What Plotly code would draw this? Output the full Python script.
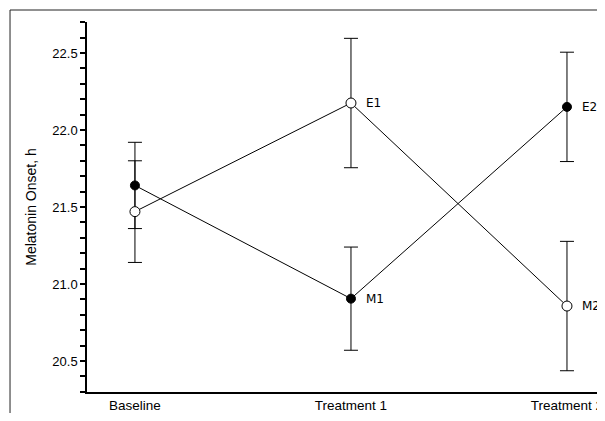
import plotly.graph_objects as go

categories = ["Baseline", "Treatment 1", "Treatment 2"]
x_pos = [0, 1, 2]

open_means = [21.47, 22.175, 20.857]
open_err = [0.33, 0.42, 0.42]
open_labels = ["", "E1", "M2"]

filled_means = [21.64, 20.905, 22.15]
filled_err = [0.28, 0.335, 0.355]
filled_labels = ["", "M1", "E2"]

y_ticks = [20.5, 21.0, 21.5, 22.0, 22.5]
y_ticktext = ["20.5", "21.0", "21.5", "22.0", "22.5"]

FONT = "Liberation Sans Narrow, Liberation Sans, Arial, sans-serif"

fig = go.Figure()

fig.add_trace(go.Scatter(
    x=x_pos, y=filled_means, mode="lines+markers",
    line=dict(color="#000", width=1),
    marker=dict(symbol="circle", size=9, color="#000", line=dict(color="#000", width=1)),
    error_y=dict(type="data", array=filled_err, visible=True, color="#000", thickness=1, width=7),
    showlegend=False, cliponaxis=False,
))
fig.add_trace(go.Scatter(
    x=x_pos, y=open_means, mode="lines+markers",
    line=dict(color="#000", width=1),
    marker=dict(symbol="circle", size=10, color="#fff", line=dict(color="#000", width=1)),
    error_y=dict(type="data", array=open_err, visible=True, color="#000", thickness=1, width=7),
    showlegend=False, cliponaxis=False,
))

annotations = []
for xs, ys, labs in [(x_pos, open_means, open_labels), (x_pos, filled_means, filled_labels)]:
    for xv, yv, lab in zip(xs, ys, labs):
        if lab:
            annotations.append(dict(
                x=xv, y=yv, text=lab, showarrow=False, xanchor="left", yanchor="middle",
                xshift=13, font=dict(family="DejaVu Sans, sans-serif", size=12, color="#000"),
            ))

fig.update_layout(
    width=597, height=405,
    margin=dict(l=79, r=0, t=14, b=21, autoexpand=False),
    paper_bgcolor="#fff", plot_bgcolor="#fff",
    annotations=annotations,
    shapes=[dict(type="rect", xref="paper", yref="paper",
                 x0=-0.1486, x1=1.2, y0=-0.3, y1=1.0324,
                 line=dict(color="#222", width=1), fillcolor="rgba(0,0,0,0)", layer="below")],
    xaxis=dict(
        range=[-0.222, 2.176], tickvals=x_pos, ticktext=categories,
        showgrid=False, zeroline=False, showline=True, linecolor="#000", linewidth=1.5,
        ticks="", automargin=False,
        tickfont=dict(family=FONT, size=13.5, color="#000"),
    ),
    yaxis=dict(
        range=[20.299, 22.701], tickvals=y_ticks, ticktext=y_ticktext,
        showgrid=False, zeroline=False, showline=True, linecolor="#000", linewidth=1.5,
        ticks="outside", ticklen=5, tickwidth=1.5, tickcolor="#000", automargin=False,
        minor=dict(dtick=0.1, tick0=20.3, ticks="outside", ticklen=5, tickwidth=1.5, tickcolor="#000", showgrid=False),
        tickfont=dict(family=FONT, size=13, color="#000"),
        title=dict(text="Melatonin Onset, h", font=dict(family=FONT, size=14, color="#000"), standoff=12),
    ),
)

fig.write_html("out.html")
